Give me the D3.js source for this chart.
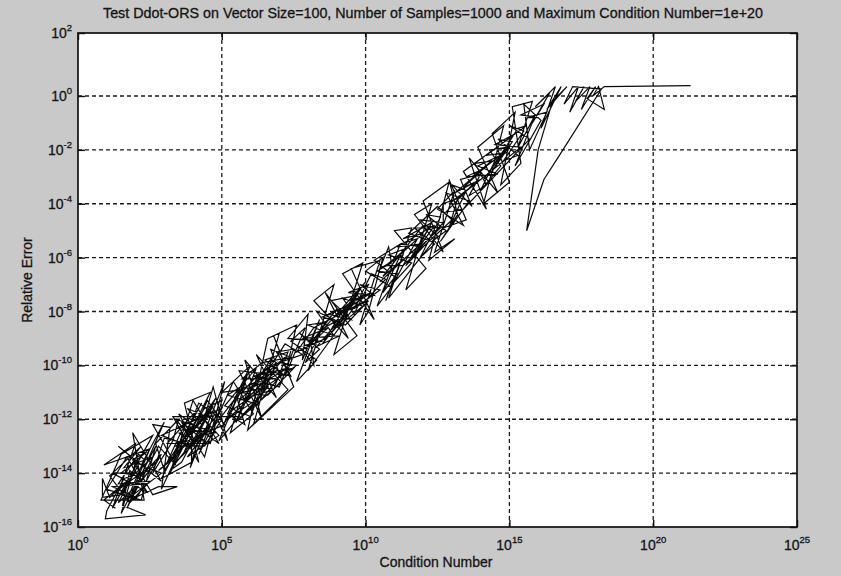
<!DOCTYPE html>
<html>
<head>
<meta charset="utf-8">
<script src="https://cdn.jsdelivr.net/npm/d3@7"></script>
<style>
  html, body { margin: 0; padding: 0; background: #c9c9c9; }
  svg { display: block; }
  text { font-family: "Liberation Sans", Arial, sans-serif; fill: #141414; stroke: #141414; stroke-width: 0.3; }
</style>
</head>
<body>
<svg id="fig" width="841" height="576"></svg>
<script>
// log10 of condition number for each sample, in plotting order
const condExp = [
  1.3,0.9,1.7,1.1,0.85,0.85,1.5,2.1,1.4,1.9,2.5,1.6,1.0,0.95,2.35,1.55,1.8,2.3,1.2,2.0,2.8,3.45,2.6,1.9,2.4,1.5,2.2,2.9,2.0,1.3,2.7,1.7,2.3,
  2.1,1.4,2.5,1.8,1.1,2.2,1.6,2.6,2.0,
  1.2,2.4,1.7,1.0,2.2,2.7,1.5,2.0,2.9,1.8,2.5,
  0.9,2.0,1.2,2.6,1.5,0.8,2.3,1.9,2.9,1.4,2.2,3.0,1.7,
  2.8,3.4,2.6,3.2,2.9,3.6,3.0,2.7,3.5,
  3.3,2.6,3.0,3.8,2.8,3.5,4.2,3.1,3.7,2.9,3.9,4.5,3.4,4.0,3.2,3.6,4.3,3.8,4.7,4.1,3.5,4.6,5.0,4.4,3.9,4.8,4.2,5.1,4.5,3.7,4.9,4.0,
  4.3,3.3,4.6,3.6,2.9,3.95,3.95,4.8,4.1,3.4,4.4,5.0,4.2,3.7,4.7,4.0,
  3.6,4.5,3.1,4.1,3.3,4.6,3.8,4.9,4.3,3.5,5.0,4.2,4.7,
  3.3,4.2,3.7,4.6,3.2,4.0,4.9,3.5,4.4,5.1,3.9,4.7,5.2,
  4.8,5.6,4.9,5.9,5.3,6.1,5.4,4.7,5.7,5.0,6.0,5.2,5.8,5.5,
  5.4,5.0,5.8,5.2,6.1,5.5,6.3,5.7,6.6,5.9,6.4,6.9,6.0,6.7,6.2,7.1,6.5,7.3,6.8,5.6,6.3,7.0,7.5,6.9,7.4,6.6,7.2,7.8,7.0,7.6,
  5.3,5.5,6.2,5.1,6.0,6.8,5.8,6.5,7.3,6.1,6.9,5.7,6.4,7.4,6.7,7.1,
  5.6,6.3,5.2,6.7,5.9,7.2,6.1,6.9,5.5,6.6,7.5,6.4,
  5.6,6.4,5.8,6.9,6.2,7.3,5.9,6.6,7.0,6.1,7.5,6.8,7.6,
  7.2,7.9,7.4,8.3,7.6,8.4,7.8,8.0,7.3,8.5,7.7,8.2,
  8.1,7.7,8.4,7.9,8.6,8.0,8.9,8.3,9.1,8.5,9.3,8.7,9.5,8.8,9.7,9.0,9.9,9.2,9.6,10.1,9.4,10.3,9.8,10.5,9.6,10.2,10.7,10.0,
  8.2,7.6,8.6,8.0,9.0,8.4,9.4,8.8,9.8,9.2,10.2,9.5,10.0,
  7.9,8.7,7.8,9.1,8.3,9.6,8.5,9.3,10.1,8.9,9.9,
  8.0,8.9,8.2,9.4,8.6,9.7,8.9,9.9,9.2,10.3,9.5,10.5,9.8,
  10.1,10.6,10.0,10.9,10.4,11.2,10.3,11.0,10.7,11.3,10.5,10.8,
  10.9,10.4,11.1,10.6,11.3,10.8,11.6,11.0,11.8,11.2,12.0,11.4,12.2,11.7,12.4,11.9,12.6,12.1,12.8,12.3,11.5,12.5,13.0,
  11.3,10.7,11.6,11.0,12.0,11.3,12.3,11.8,12.6,12.0,
  10.6,11.5,10.5,11.9,11.1,12.4,11.6,12.7,11.9,12.5,
  10.8,11.6,11.0,12.1,11.4,12.3,11.7,12.7,12.0,12.9,12.2,13.1,
  12.4,13.1,12.5,13.4,12.8,13.6,12.6,13.2,12.9,13.5,12.7,
  12.7,13.2,12.9,13.5,13.0,13.7,13.3,14.0,13.6,14.2,13.8,14.5,14.0,14.7,14.3,14.9,14.4,15.1,14.6,15.3,14.8,15.5,15.0,15.7,
  13.4,12.8,13.8,13.1,14.1,13.5,14.6,13.9,14.9,14.2,15.2,14.5,15.4,
  13.3,12.9,14.0,13.4,14.4,13.7,14.7,14.1,15.0,14.5,15.3,15.6,
  13.4,14.2,13.6,14.6,13.9,14.8,14.1,15.0,14.4,15.2,14.7,15.4,15.1,15.8,
  15.3,15.9,15.2,16.1,15.5,15.7,16.3,15.6,
  16.0,15.4,16.2,15.8,16.4,15.9,16.6,16.1,16.8,16.3,17.0,16.5,16.0,15.6,16.2,16.8,18.2,17.2,16.9,17.4,17.1,17.6,17.3,17.8,17.5,18.0,17.7,18.3,18.1,17.9,18.3,21.3
];

// log10 of relative error for each sample
const errExp = [
  -15.3,-15.0,-14.3,-14.9,-14.2,-14.9,-14.8,-13.7,-15.1,-14.6,-13.9,-14.2,-15.4,-15.7,-15.55,-15.2,-13.9,-14.4,-14.5,-14.9,-14.5,-14.5,-14.8,-13.5,-13.2,-14.0,-14.1,-13.3,-15.0,-14.7,-13.6,-15.0,-13.5,
  -13.3,-14.4,-14.3,-15.1,-14.1,-13.0,-13.8,-13.4,-14.0,
  -14.0,-14.7,-13.4,-14.6,-15.0,-13.0,-15.5,-13.6,-14.0,-14.9,-13.1,
  -13.7,-12.9,-15.3,-12.6,-13.3,-15.0,-15.0,-12.5,-14.3,-13.0,-13.7,-12.1,-15.3,
  -13.0,-13.7,-12.2,-12.3,-14.6,-13.0,-13.9,-12.9,-12.0,
  -12.8,-14.0,-12.7,-12.9,-13.9,-13.3,-11.9,-13.6,-12.2,-12.6,-13.0,-12.4,-12.0,-12.8,-13.9,-13.6,-12.2,-11.6,-12.0,-13.0,-12.5,-12.9,-11.3,-11.6,-12.4,-12.5,-12.6,-12.2,-11.3,-13.2,-11.8,-12.0,
  -11.4,-13.3,-11.7,-12.8,-14.2,-13.6,-12.9,-11.2,-12.3,-13.0,-13.0,-12.0,-11.4,-12.7,-11.5,-12.9,
  -12.1,-12.9,-12.9,-11.7,-13.7,-12.3,-13.4,-12.6,-11.9,-12.3,-11.6,-13.3,-11.9,
  -11.9,-13.6,-11.4,-11.0,-14.0,-11.3,-12.9,-11.8,-13.4,-10.6,-13.8,-10.8,-12.8,
  -11.9,-11.9,-12.8,-10.3,-12.5,-11.8,-10.6,-12.3,-10.9,-11.0,-10.0,-11.8,-12.2,-11.1,
  -11.6,-12.3,-10.7,-11.1,-11.4,-12.1,-10.3,-11.0,-10.8,-11.7,-11.1,-9.9,-10.6,-10.0,-11.5,-10.3,-9.8,-9.5,-10.9,-11.3,-10.6,-10.8,-9.4,-9.5,-10.4,-10.2,-9.2,-9.6,-9.9,-10.0,
  -11.7,-12.1,-10.1,-11.5,-11.9,-9.6,-11.3,-10.6,-10.1,-10.4,-10.5,-10.5,-9.9,-9.7,-9.4,-10.6,
  -12.0,-11.2,-12.0,-10.5,-10.9,-9.7,-11.0,-10.2,-11.0,-11.1,-10.1,-10.3,
  -10.2,-12.0,-9.8,-11.2,-9.6,-10.9,-12.4,-9.0,-8.8,-12.2,-10.8,-8.9,-8.5,
  -10.4,-8.6,-9.1,-9.8,-10.6,-8.3,-9.8,-8.1,-9.0,-9.1,-9.3,-10.0,
  -9.2,-8.8,-9.4,-9.9,-8.4,-8.5,-8.9,-8.0,-8.4,-9.2,-7.8,-8.1,-8.3,-7.6,-7.4,-8.6,-7.8,-7.5,-8.1,-7.0,-7.3,-7.4,-7.0,-7.2,-7.9,-6.6,-6.8,-7.6,
  -8.6,-9.5,-9.0,-9.3,-7.9,-8.7,-8.1,-8.8,-7.2,-8.0,-7.3,-7.6,-6.9,
  -9.4,-8.6,-9.0,-8.9,-9.3,-7.7,-8.2,-8.5,-7.6,-8.2,-7.4,
  -10.2,-7.0,-7.6,-9.0,-7.3,-8.9,-9.6,-6.2,-6.6,-8.3,-6.4,-6.1,-8.5,
  -8.0,-6.0,-6.5,-7.1,-7.8,-5.5,-6.1,-6.7,-7.6,-5.9,-6.4,-5.6,
  -6.2,-6.5,-6.6,-7.3,-5.7,-5.9,-6.2,-6.9,-5.3,-5.5,-5.6,-6.3,-4.9,-4.9,-5.5,-6.0,-4.5,-4.4,-5.0,-5.4,-5.1,-4.1,-4.6,
  -6.3,-6.3,-5.5,-6.1,-5.1,-5.3,-4.7,-5.7,-4.9,-4.8,
  -6.7,-5.9,-6.9,-5.5,-5.6,-4.8,-6.0,-4.7,-4.6,-5.2,
  -7.5,-4.9,-5.0,-6.4,-7.2,-4.0,-4.4,-5.8,-3.9,-3.2,-6.1,-5.3,
  -5.8,-3.5,-4.2,-4.8,-3.6,-3.9,-5.4,-4.4,-3.1,-4.6,-4.9,
  -4.0,-3.8,-4.9,-3.5,-3.3,-4.1,-3.1,-2.9,-3.7,-3.3,-2.5,-2.4,-3.5,-2.6,-2.0,-1.9,-2.8,-1.7,-1.6,-2.2,-2.4,-1.3,-1.1,-1.6,
  -4.2,-4.3,-3.2,-3.6,-2.7,-3.0,-2.9,-2.6,-2.1,-2.2,-1.4,-1.8,-1.9,
  -3.7,-4.0,-3.1,-3.4,-2.4,-3.0,-2.2,-3.1,-1.8,-2.5,-1.2,-1.1,
  -2.8,-4.2,-2.3,-3.6,-1.9,-1.1,-4.0,-3.2,-1.4,-0.6,-3.3,-2.5,-0.4,-0.2,
  -1.9,-0.7,-2.6,-0.9,-0.3,-2.0,-0.6,-0.8,
  -0.8,-0.7,-0.3,-1.0,0.1,-0.4,0.3,-1.2,0.3,-0.5,0.3,-0.2,-2.0,-5.0,-3.1,-2.1,0.22,0.3,-0.3,0.3,-0.6,0.3,-0.2,0.3,-0.5,0.3,-0.1,-0.5,0.3,0.0,0.3,0.33
];

// axis ticks (exponents of ten)
const xTickExp = [0, 5, 10, 15, 20, 25];
const yTickExp = [2, 0, -2, -4, -6, -8, -10, -12, -14, -16];

const titleText = "Test Ddot-ORS on Vector Size=100, Number of Samples=1000 and Maximum Condition Number=1e+20";
const xLabelText = "Condition Number";
const yLabelText = "Relative Error";

const L = 78, R = 797, T = 33, B = 527;

const svg = d3.select("#fig");

const x = d3.scaleLog().domain([1, 1e25]).range([L, R]);
// the printed axis is slightly stretched in its top decade pair
const y = d3.scaleLog().domain([1e-16, 1, 1e2]).range([B, 96, T]);

const xTicks = xTickExp.map(e => Math.pow(10, e));
const yTicks = yTickExp.map(e => Math.pow(10, e));

// white axes area
svg.append("rect")
  .attr("x", L).attr("y", T).attr("width", R - L).attr("height", B - T)
  .attr("fill", "#ffffff");

// dotted grid
const grid = svg.append("g")
  .attr("stroke", "#1a1a1a").attr("stroke-width", 1.3)
  .attr("stroke-dasharray", "4,3");
grid.selectAll("line.gx").data(xTicks.slice(1, -1)).join("line")
  .attr("class", "gx")
  .attr("x1", d => x(d)).attr("x2", d => x(d))
  .attr("y1", T).attr("y2", B);
grid.selectAll("line.gy").data(yTicks.slice(1, -1)).join("line")
  .attr("class", "gy")
  .attr("x1", L).attr("x2", R)
  .attr("y1", d => y(d)).attr("y2", d => y(d));

// the sample path
const samples = condExp.map((c, i) => ({ cond: Math.pow(10, c), err: Math.pow(10, errExp[i]) }));
const line = d3.line().x(d => x(d.cond)).y(d => y(d.err));
svg.append("path")
  .datum(samples)
  .attr("d", line)
  .attr("fill", "none")
  .attr("stroke", "#0a0a0a")
  .attr("stroke-width", 1.2)
  .attr("stroke-linejoin", "miter");

// inward ticks on all four sides
const tick = 7;
function styleAxis(g) {
  g.select(".domain").remove();
  g.selectAll(".tick line").attr("stroke", "#111").attr("stroke-width", 1.4);
  g.selectAll(".tick text").remove();
}
svg.append("g").attr("transform", `translate(0,${B})`)
  .call(d3.axisBottom(x).tickValues(xTicks).tickSize(-tick).tickFormat("")).call(styleAxis);
svg.append("g").attr("transform", `translate(0,${T})`)
  .call(d3.axisTop(x).tickValues(xTicks).tickSize(-tick).tickFormat("")).call(styleAxis);
svg.append("g").attr("transform", `translate(${L},0)`)
  .call(d3.axisLeft(y).tickValues(yTicks).tickSize(-tick).tickFormat("")).call(styleAxis);
svg.append("g").attr("transform", `translate(${R},0)`)
  .call(d3.axisRight(y).tickValues(yTicks).tickSize(-tick).tickFormat("")).call(styleAxis);

// axes box
svg.append("rect")
  .attr("x", L).attr("y", T).attr("width", R - L).attr("height", B - T)
  .attr("fill", "none").attr("stroke", "#111").attr("stroke-width", 1.7);

// power-of-ten tick labels
function powerLabel(g, exp) {
  const t = g.append("text").attr("font-size", 14);
  t.append("tspan").text("10");
  t.append("tspan").attr("font-size", 9.5).attr("dy", -7).text(String(exp));
  return t;
}
xTickExp.forEach(e => {
  const g = svg.append("g").attr("transform", `translate(${x(Math.pow(10, e))},${B + 23})`);
  powerLabel(g, e).attr("text-anchor", "middle");
});
yTickExp.forEach(e => {
  const g = svg.append("g").attr("transform", `translate(${L - 6},${y(Math.pow(10, e)) + 5})`);
  powerLabel(g, e).attr("text-anchor", "end");
});

// title and axis labels
svg.append("text")
  .attr("x", 433).attr("y", 18)
  .attr("text-anchor", "middle").attr("font-size", 14)
  .attr("textLength", 660).attr("lengthAdjust", "spacingAndGlyphs")
  .text(titleText);
svg.append("text")
  .attr("x", 436).attr("y", 567)
  .attr("text-anchor", "middle").attr("font-size", 14)
  .text(xLabelText);
svg.append("text")
  .attr("transform", `translate(32,${(T + B) / 2}) rotate(-90)`)
  .attr("text-anchor", "middle").attr("font-size", 14)
  .text(yLabelText);
</script>
</body>
</html>
